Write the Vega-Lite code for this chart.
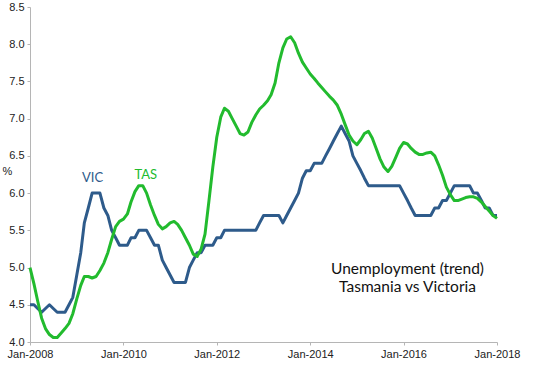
{
  "$schema": "https://vega.github.io/schema/vega-lite/v6.json",
  "width": 467,
  "height": 335,
  "autosize": {"type": "none"},
  "padding": {"left": 30, "top": 7, "right": 58, "bottom": 24},
  "background": "white",
  "config": {"view": {"stroke": null}},
  "data": {"values": [
    {"date":"2008-01-01","VIC":4.5,"TAS":5.0},
    {"date":"2008-02-01","VIC":4.5,"TAS":4.78},
    {"date":"2008-03-01","VIC":4.45,"TAS":4.55},
    {"date":"2008-04-01","VIC":4.4,"TAS":4.32},
    {"date":"2008-05-01","VIC":4.45,"TAS":4.18},
    {"date":"2008-06-01","VIC":4.5,"TAS":4.1},
    {"date":"2008-07-01","VIC":4.45,"TAS":4.06},
    {"date":"2008-08-01","VIC":4.4,"TAS":4.06},
    {"date":"2008-09-01","VIC":4.4,"TAS":4.12},
    {"date":"2008-10-01","VIC":4.4,"TAS":4.18},
    {"date":"2008-11-01","VIC":4.5,"TAS":4.25},
    {"date":"2008-12-01","VIC":4.6,"TAS":4.38},
    {"date":"2009-01-01","VIC":4.9,"TAS":4.58},
    {"date":"2009-02-01","VIC":5.2,"TAS":4.76},
    {"date":"2009-03-01","VIC":5.6,"TAS":4.88},
    {"date":"2009-04-01","VIC":5.8,"TAS":4.88},
    {"date":"2009-05-01","VIC":6.0,"TAS":4.86},
    {"date":"2009-06-01","VIC":6.0,"TAS":4.88},
    {"date":"2009-07-01","VIC":6.0,"TAS":4.96},
    {"date":"2009-08-01","VIC":5.8,"TAS":5.06},
    {"date":"2009-09-01","VIC":5.7,"TAS":5.2},
    {"date":"2009-10-01","VIC":5.5,"TAS":5.38},
    {"date":"2009-11-01","VIC":5.4,"TAS":5.55},
    {"date":"2009-12-01","VIC":5.3,"TAS":5.62},
    {"date":"2010-01-01","VIC":5.3,"TAS":5.65},
    {"date":"2010-02-01","VIC":5.3,"TAS":5.72},
    {"date":"2010-03-01","VIC":5.4,"TAS":5.88},
    {"date":"2010-04-01","VIC":5.4,"TAS":6.02},
    {"date":"2010-05-01","VIC":5.5,"TAS":6.1},
    {"date":"2010-06-01","VIC":5.5,"TAS":6.1},
    {"date":"2010-07-01","VIC":5.5,"TAS":6.0},
    {"date":"2010-08-01","VIC":5.4,"TAS":5.84},
    {"date":"2010-09-01","VIC":5.3,"TAS":5.7},
    {"date":"2010-10-01","VIC":5.3,"TAS":5.58},
    {"date":"2010-11-01","VIC":5.1,"TAS":5.52},
    {"date":"2010-12-01","VIC":5.0,"TAS":5.55},
    {"date":"2011-01-01","VIC":4.9,"TAS":5.6},
    {"date":"2011-02-01","VIC":4.8,"TAS":5.62},
    {"date":"2011-03-01","VIC":4.8,"TAS":5.58},
    {"date":"2011-04-01","VIC":4.8,"TAS":5.5},
    {"date":"2011-05-01","VIC":4.8,"TAS":5.4},
    {"date":"2011-06-01","VIC":5.0,"TAS":5.3},
    {"date":"2011-07-01","VIC":5.1,"TAS":5.18},
    {"date":"2011-08-01","VIC":5.2,"TAS":5.15},
    {"date":"2011-09-01","VIC":5.2,"TAS":5.25},
    {"date":"2011-10-01","VIC":5.3,"TAS":5.45},
    {"date":"2011-11-01","VIC":5.3,"TAS":5.9},
    {"date":"2011-12-01","VIC":5.3,"TAS":6.35},
    {"date":"2012-01-01","VIC":5.4,"TAS":6.75},
    {"date":"2012-02-01","VIC":5.4,"TAS":7.02},
    {"date":"2012-03-01","VIC":5.5,"TAS":7.14},
    {"date":"2012-04-01","VIC":5.5,"TAS":7.1},
    {"date":"2012-05-01","VIC":5.5,"TAS":7.0},
    {"date":"2012-06-01","VIC":5.5,"TAS":6.9},
    {"date":"2012-07-01","VIC":5.5,"TAS":6.8},
    {"date":"2012-08-01","VIC":5.5,"TAS":6.78},
    {"date":"2012-09-01","VIC":5.5,"TAS":6.82},
    {"date":"2012-10-01","VIC":5.5,"TAS":6.95},
    {"date":"2012-11-01","VIC":5.5,"TAS":7.05},
    {"date":"2012-12-01","VIC":5.6,"TAS":7.13},
    {"date":"2013-01-01","VIC":5.7,"TAS":7.18},
    {"date":"2013-02-01","VIC":5.7,"TAS":7.24},
    {"date":"2013-03-01","VIC":5.7,"TAS":7.32},
    {"date":"2013-04-01","VIC":5.7,"TAS":7.48},
    {"date":"2013-05-01","VIC":5.7,"TAS":7.75},
    {"date":"2013-06-01","VIC":5.6,"TAS":7.95},
    {"date":"2013-07-01","VIC":5.7,"TAS":8.07},
    {"date":"2013-08-01","VIC":5.8,"TAS":8.1},
    {"date":"2013-09-01","VIC":5.9,"TAS":8.02},
    {"date":"2013-10-01","VIC":6.0,"TAS":7.88},
    {"date":"2013-11-01","VIC":6.2,"TAS":7.76},
    {"date":"2013-12-01","VIC":6.3,"TAS":7.68},
    {"date":"2014-01-01","VIC":6.3,"TAS":7.6},
    {"date":"2014-02-01","VIC":6.4,"TAS":7.54},
    {"date":"2014-03-01","VIC":6.4,"TAS":7.48},
    {"date":"2014-04-01","VIC":6.4,"TAS":7.42},
    {"date":"2014-05-01","VIC":6.5,"TAS":7.36},
    {"date":"2014-06-01","VIC":6.6,"TAS":7.3},
    {"date":"2014-07-01","VIC":6.7,"TAS":7.25},
    {"date":"2014-08-01","VIC":6.8,"TAS":7.18},
    {"date":"2014-09-01","VIC":6.9,"TAS":7.06},
    {"date":"2014-10-01","VIC":6.8,"TAS":6.92},
    {"date":"2014-11-01","VIC":6.7,"TAS":6.78},
    {"date":"2014-12-01","VIC":6.5,"TAS":6.7},
    {"date":"2015-01-01","VIC":6.4,"TAS":6.65},
    {"date":"2015-02-01","VIC":6.3,"TAS":6.72},
    {"date":"2015-03-01","VIC":6.2,"TAS":6.8},
    {"date":"2015-04-01","VIC":6.1,"TAS":6.83},
    {"date":"2015-05-01","VIC":6.1,"TAS":6.74},
    {"date":"2015-06-01","VIC":6.1,"TAS":6.6},
    {"date":"2015-07-01","VIC":6.1,"TAS":6.46},
    {"date":"2015-08-01","VIC":6.1,"TAS":6.35},
    {"date":"2015-09-01","VIC":6.1,"TAS":6.29},
    {"date":"2015-10-01","VIC":6.1,"TAS":6.36},
    {"date":"2015-11-01","VIC":6.1,"TAS":6.48},
    {"date":"2015-12-01","VIC":6.1,"TAS":6.6},
    {"date":"2016-01-01","VIC":6.0,"TAS":6.68},
    {"date":"2016-02-01","VIC":5.9,"TAS":6.66},
    {"date":"2016-03-01","VIC":5.8,"TAS":6.6},
    {"date":"2016-04-01","VIC":5.7,"TAS":6.55},
    {"date":"2016-05-01","VIC":5.7,"TAS":6.52},
    {"date":"2016-06-01","VIC":5.7,"TAS":6.52},
    {"date":"2016-07-01","VIC":5.7,"TAS":6.54},
    {"date":"2016-08-01","VIC":5.7,"TAS":6.55},
    {"date":"2016-09-01","VIC":5.8,"TAS":6.5},
    {"date":"2016-10-01","VIC":5.8,"TAS":6.38},
    {"date":"2016-11-01","VIC":5.9,"TAS":6.24},
    {"date":"2016-12-01","VIC":5.9,"TAS":6.08},
    {"date":"2017-01-01","VIC":6.0,"TAS":5.98},
    {"date":"2017-02-01","VIC":6.1,"TAS":5.9},
    {"date":"2017-03-01","VIC":6.1,"TAS":5.9},
    {"date":"2017-04-01","VIC":6.1,"TAS":5.92},
    {"date":"2017-05-01","VIC":6.1,"TAS":5.94},
    {"date":"2017-06-01","VIC":6.1,"TAS":5.95},
    {"date":"2017-07-01","VIC":6.0,"TAS":5.95},
    {"date":"2017-08-01","VIC":6.0,"TAS":5.93},
    {"date":"2017-09-01","VIC":5.9,"TAS":5.88},
    {"date":"2017-10-01","VIC":5.8,"TAS":5.82},
    {"date":"2017-11-01","VIC":5.8,"TAS":5.76},
    {"date":"2017-12-01","VIC":5.7,"TAS":5.7},
    {"date":"2018-01-01","VIC":5.7,"TAS":5.66}
  ]},
  "resolve": {"axis": {"x": "independent", "y": "independent"}},
  "layer": [
    {
      "mark": {"type": "line", "color": "#2e5b8b", "strokeWidth": 3, "strokeJoin": "round"},
      "encoding": {
        "x": {
          "field": "date", "type": "temporal",
          "scale": {"type": "utc", "domain": [{"year": 2008, "month": 1, "date": 1, "utc": true}, {"year": 2018, "month": 1, "date": 1, "utc": true}]},
          "axis": {
            "title": null, "grid": false,
            "values": [{"year": 2008, "month": 1, "date": 1, "utc": true}, {"year": 2010, "month": 1, "date": 1, "utc": true}, {"year": 2012, "month": 1, "date": 1, "utc": true}, {"year": 2014, "month": 1, "date": 1, "utc": true}, {"year": 2016, "month": 1, "date": 1, "utc": true}, {"year": 2018, "month": 1, "date": 1, "utc": true}],
            "labelExpr": "'Jan-' + utcFormat(datum.value, '%Y')",
            "labelFlush": false, "labelOverlap": false,
            "labelFont": "Liberation Sans", "labelFontSize": 11, "labelColor": "#222",
            "labelPadding": 3,
            "domainColor": "#b5b5b5", "tickColor": "#b5b5b5", "tickSize": 3
          }
        },
        "y": {
          "field": "VIC", "type": "quantitative",
          "scale": {"domain": [4, 8.5], "nice": false, "zero": false},
          "axis": {
            "title": "%", "titleAngle": 0, "titleX": -28, "titleY": 169, "titleAlign": "left",
            "titleFont": "Liberation Sans", "titleFontSize": 11, "titleFontWeight": "normal", "titleColor": "#222",
            "grid": false, "values": [4, 4.5, 5, 5.5, 6, 6.5, 7, 7.5, 8, 8.5], "format": ".1f",
            "labelFont": "Liberation Sans", "labelFontSize": 11, "labelColor": "#222", "labelPadding": 3,
            "domainColor": "#b5b5b5", "tickColor": "#b5b5b5", "tickSize": 3
          }
        }
      }
    },
    {
      "mark": {"type": "line", "color": "#22bb2e", "strokeWidth": 3, "strokeJoin": "round"},
      "encoding": {
        "x": {"field": "date", "type": "temporal", "axis": null},
        "y": {"field": "TAS", "type": "quantitative", "axis": null}
      }
    },
    {
      "data": {"values": [{}]},
      "mark": {"type": "text", "text": "VIC", "color": "#2e5b8b", "font": "Lato", "fontSize": 13, "align": "center", "baseline": "middle"},
      "encoding": {
        "x": {"datum": {"year": 2009, "month": 5, "date": 4, "utc": true}, "type": "temporal", "axis": null},
        "y": {"datum": 6.2, "type": "quantitative", "axis": null}
      }
    },
    {
      "data": {"values": [{}]},
      "mark": {"type": "text", "text": "TAS", "color": "#22bb2e", "font": "Lato", "fontSize": 13, "align": "center", "baseline": "middle"},
      "encoding": {
        "x": {"datum": {"year": 2010, "month": 6, "date": 25, "utc": true}, "type": "temporal", "axis": null},
        "y": {"datum": 6.25, "type": "quantitative", "axis": null}
      }
    },
    {
      "data": {"values": [{}]},
      "mark": {"type": "text", "text": "Unemployment (trend)", "color": "#111", "font": "Lato", "fontSize": 15.5, "align": "center", "baseline": "middle"},
      "encoding": {
        "x": {"datum": {"year": 2016, "month": 2, "date": 1, "utc": true}, "type": "temporal", "axis": null},
        "y": {"datum": 4.985, "type": "quantitative", "axis": null}
      }
    },
    {
      "data": {"values": [{}]},
      "mark": {"type": "text", "text": "Tasmania vs Victoria", "color": "#111", "font": "Lato", "fontSize": 15.5, "align": "center", "baseline": "middle"},
      "encoding": {
        "x": {"datum": {"year": 2016, "month": 2, "date": 1, "utc": true}, "type": "temporal", "axis": null},
        "y": {"datum": 4.735, "type": "quantitative", "axis": null}
      }
    }
  ]
}
